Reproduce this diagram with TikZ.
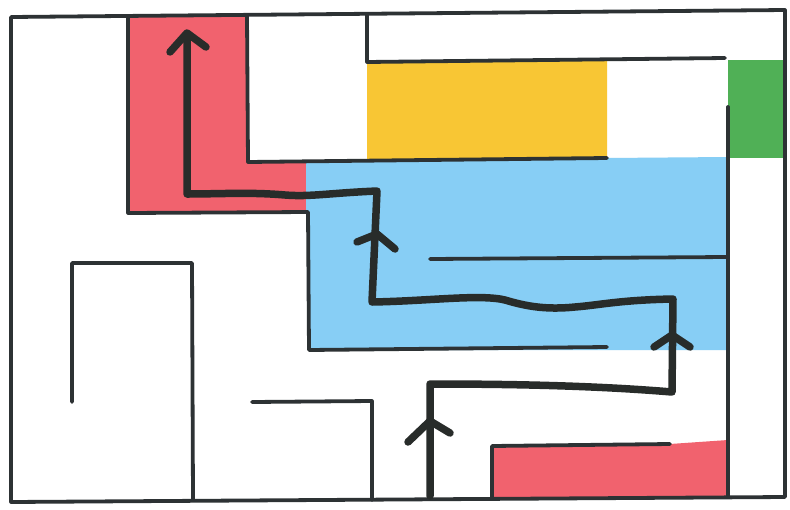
\documentclass[tikz,border=0pt]{standalone}
\usetikzlibrary{calc}
\definecolor{roomred}{RGB}{241,98,110}
\definecolor{roomyellow}{RGB}{248,198,52}
\definecolor{roomblue}{RGB}{135,206,245}
\definecolor{roomgreen}{RGB}{80,176,86}
\definecolor{wallink}{RGB}{45,50,52}
\definecolor{routeink}{RGB}{40,44,42}
\tikzset{
  wall/.style={draw=wallink, line width=3.8pt, line cap=round, line join=round},
  route/.style={draw=routeink, line width=7.5pt, line cap=round, line join=round},
  chevron/.style={draw=routeink, line width=7.5pt, line cap=round, line join=round},
}
\begin{document}
\begin{tikzpicture}[x=1pt, y=-1pt]
  \useasboundingbox (0,0) rectangle (790,509);
  \fill[white] (0,0) rectangle (790,509);

  % coloured rooms
  \fill[roomred] (128,17) -- (247,16) -- (247,162) -- (306,161) -- (306,213) -- (128,213) -- cycle;
  \fill[roomyellow] (367,62) -- (607,60) -- (607,158) -- (367,161) -- cycle;
  \fill[roomgreen] (728,60) -- (785,60) -- (785,158) -- (728,158) -- cycle;
  \fill[roomblue] (306,161) -- (607,158) -- (728,157) -- (728,350) -- (309,350) -- (309,213) -- (306,213) -- cycle;
  \fill[roomred] (492,446) -- (670,444) -- (728,440) -- (728,497) -- (492,497) -- cycle;

  % outer walls
  \draw[wall] (11,17) -- (785,10) -- (785,497) -- (11,502) -- cycle;

  % inner walls
  \draw[wall] (128,17) -- (128,213) -- (308,212) -- (309,350) -- (607,347);
  \draw[wall] (247,16) -- (248,162) -- (607,158);
  \draw[wall] (367,14) -- (367,62) -- (725,58);
  \draw[wall] (728,107) -- (728,497);
  \draw[wall] (430,259) -- (727,257);
  \draw[wall] (72,402) -- (72,263) -- (192,263) -- (193,500);
  \draw[wall] (252,402) -- (372,401) -- (372,500);
  \draw[wall] (492,497) -- (492,446) -- (670,444);

  % walking route
  \coordinate (start) at (430,496);
  \coordinate (c1) at (430,384);
  \coordinate (c2) at (672,392);
  \coordinate (c3) at (673,299);
  \coordinate (c4) at (372,302);
  \coordinate (c5) at (377,191);
  \coordinate (c6) at (187,194);
  \coordinate (goal) at (187,34);
  \draw[route] (start) -- (c1)
    .. controls (520,384) and (600,386) .. (c2) -- (c3)
    .. controls (620,300) and (600,305) .. (575,307)
    .. controls (545,310) and (525,306) .. (505,300)
    .. controls (480,294) and (430,301) .. (c4)
    -- (c5) .. controls (330,193) and (310,197) .. (285,195)
    .. controls (250,192) and (220,194) .. (c6) -- (goal);

  % direction marks along the route
  \draw[chevron] (408,442) -- (430,421) -- (450,433);
  \draw[chevron] (654,347) -- (672,335) -- (690,347);
  \draw[chevron] (357,242) -- (377,234) -- (395,249);
  \draw[chevron] (170,52) -- (187,33) -- (206,47);
\end{tikzpicture}
\end{document}
